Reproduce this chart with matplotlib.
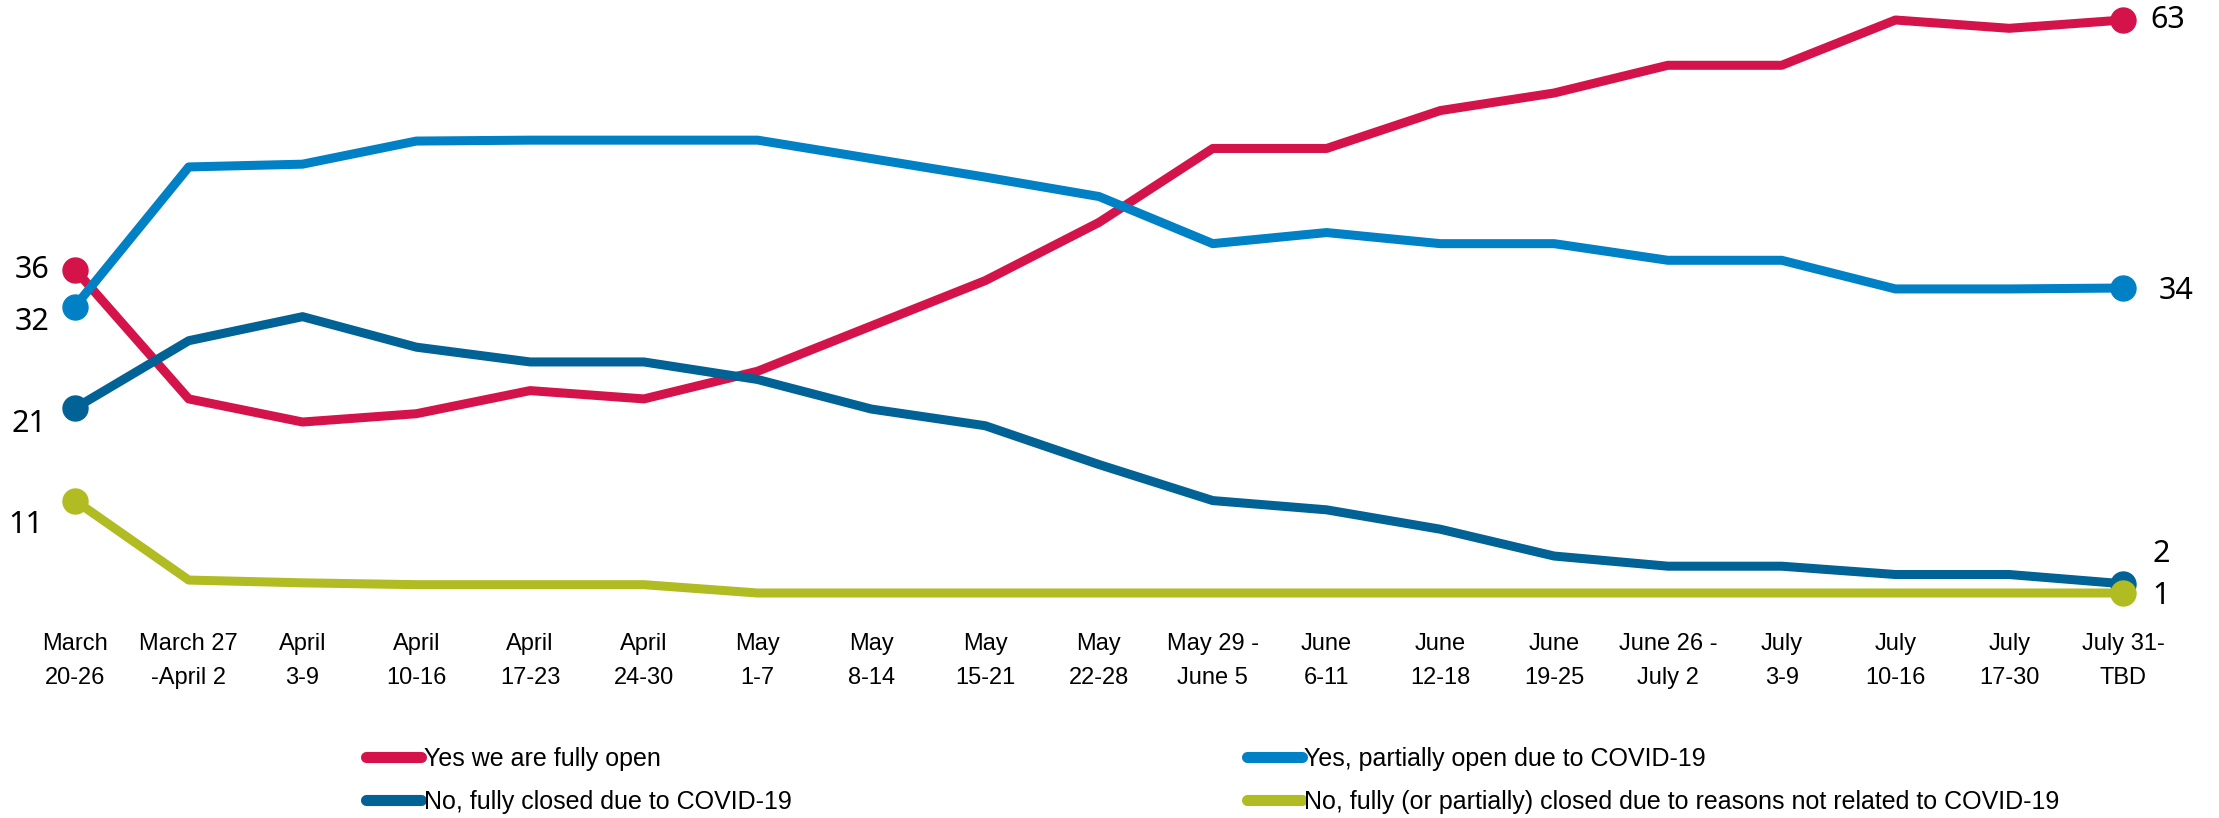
import matplotlib
matplotlib.use('Agg')
from matplotlib import pyplot as plt
from matplotlib.lines import Line2D

weeks = ['March\n20-26', 'March 27\n-April 2', 'April\n3-9', 'April\n10-16', 'April\n17-23',
         'April\n24-30', 'May\n1-7', 'May\n8-14', 'May\n15-21', 'May\n22-28', 'May 29 -\nJune 5',
         'June\n6-11', 'June\n12-18', 'June\n19-25', 'June 26 -\nJuly 2', 'July\n3-9',
         'July\n10-16', 'July\n17-30', 'July 31-\nTBD']

fully_open = [36, 22.0, 19.5, 20.4, 22.9, 22.0, 25.0, 29.9, 34.8, 41.1, 49.1, 49.1,
              53.2, 55.1, 58.1, 58.1, 63, 62.1, 63]
partially_open = [32, 47.1, 47.4, 49.9, 50.0, 50.0, 50.0, 48.0, 46.0, 43.9, 38.8, 40.0,
                  38.8, 38.8, 37.0, 37.0, 33.9, 33.9, 34]
fully_closed = [21, 28.3, 30.9, 27.6, 26.0, 26.0, 24.1, 20.9, 19.1, 14.9, 11.0, 10.0,
                7.9, 5.0, 3.9, 3.9, 3.0, 3.0, 2]
other_closed = [11, 2.4, 2.1, 1.9, 1.9, 1.9, 1, 1, 1, 1, 1, 1, 1, 1, 1, 1, 1, 1, 1]

names = ['Yes we are fully open', 'Yes, partially open due to COVID-19',
         'No, fully closed due to COVID-19',
         'No, fully (or partially) closed due to reasons not related to COVID-19']
colors = ['#D4134A', '#0081C6', '#006295', '#B0BC22']

num_font = 'Noto Sans'
tick_font = 'Liberation Sans'

fig = plt.figure(figsize=(22.19, 8.18), dpi=100)
ax = fig.add_axes([75/2219, 225/818, 2048/2219, 573/818])

x = list(range(len(weeks)))
series = [fully_open, partially_open, fully_closed, other_closed]
for s, c in zip(series, colors):
	ax.plot(x, s, color=c, lw=6.5, solid_joinstyle='round', clip_on=False)
	ax.plot([x[0], x[-1]], [s[0], s[-1]], 'o', color=c, ms=18, clip_on=False, lw=0)

ax.set_xlim(0, 18)
ax.set_ylim(1, 63)
ax.set_yticks([])
ax.set_xticks(x)
ax.set_xticklabels(weeks, family=tick_font, fontsize=17, linespacing=1.7)
ax.tick_params(axis='x', length=0, pad=29)
for sp in ax.spines.values():
	sp.set_visible(False)

# value labels at both ends
def lab(txt, xv, yv, dx, dy):
	ax.annotate(txt, (xv, yv), xytext=(dx, dy), textcoords='offset pixels',
		ha='center', va='center', fontsize=22, family=num_font, color='black')

lab('36', 0, fully_open[0], -43, 0)
lab('32', 0, partially_open[0], -43, -16)
lab('21', 0, fully_closed[0], -46, -16)
lab('11', 0, other_closed[0], -49, -24)
lab('63', 18, fully_open[-1], 45, 0)
lab('34', 18, partially_open[-1], 53, -3)
lab('2', 18, fully_closed[-1], 38, 30)
lab('1', 18, other_closed[-1], 38, -3)

# legend in two columns
handles = [Line2D([], [], color=c, lw=8, solid_capstyle='round') for c in colors]
leg_kw = dict(frameon=False, prop={'family': tick_font, 'size': 18}, handlelength=2.2,
	handletextpad=0.1, labelspacing=0.75, borderaxespad=0, borderpad=0, loc='upper left')
fig.legend([handles[0], handles[2]], [names[0], names[2]],
	bbox_to_anchor=(366/2219, 1 - 747/818), **leg_kw)
fig.legend([handles[1], handles[3]], [names[1], names[3]],
	bbox_to_anchor=(1247/2219, 1 - 747/818), **leg_kw)

plt.savefig('out.png', dpi=100)
